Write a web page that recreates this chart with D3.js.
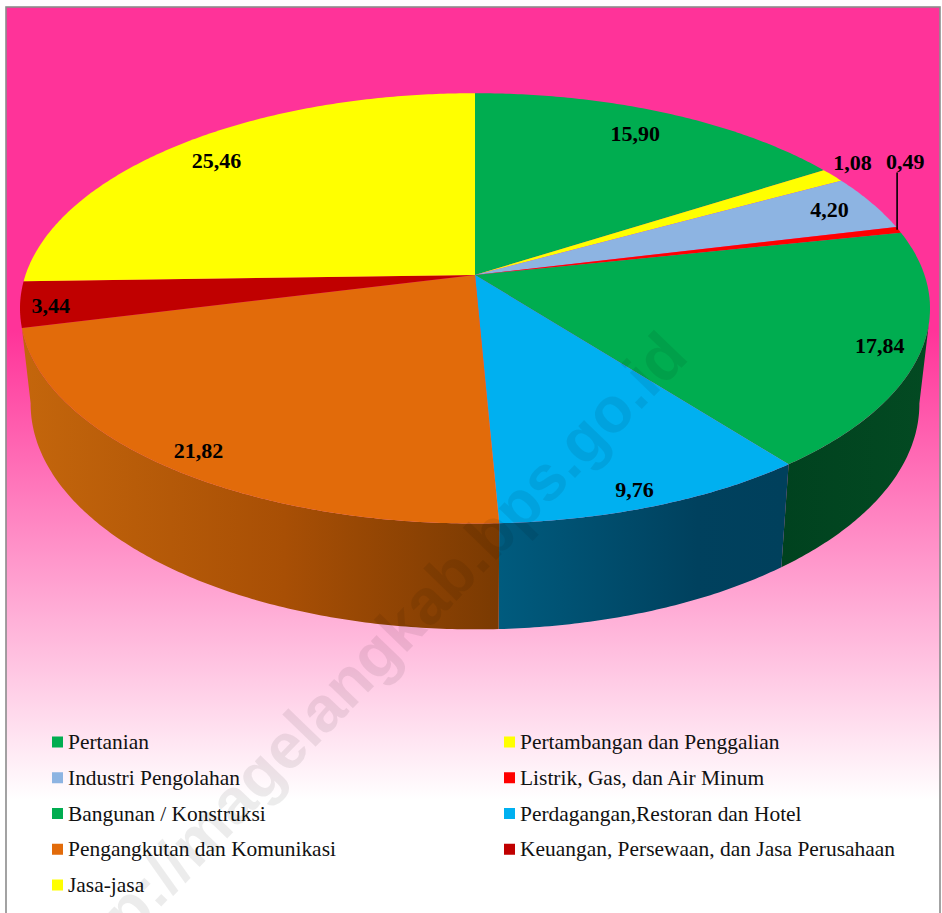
<!DOCTYPE html>
<html>
<head>
<meta charset="utf-8">
<style>
    html, body {margin:0; padding:0; background:#fff;}
    svg {display:block;}
    text {font-family:"Liberation Serif", "Times New Roman", serif;}
</style>
<script src="https://cdn.jsdelivr.net/npm/d3@7/dist/d3.min.js"></script>
</head>
<body>
<script>
//wrap everything in anon function
(function(){
    //chart data
    var categories = ["Pertanian", "Pertambangan dan Penggalian", "Industri Pengolahan", "Listrik, Gas, dan Air Minum", "Bangunan / Konstruksi", "Perdagangan,Restoran dan Hotel", "Pengangkutan dan Komunikasi", "Keuangan, Persewaan, dan Jasa Perusahaan", "Jasa-jasa"];
    var values = [15.90, 1.08, 4.20, 0.49, 17.84, 9.76, 21.82, 3.44, 25.46];
    var valueLabels = ["15,90", "1,08", "4,20", "0,49", "17,84", "9,76", "21,82", "3,44", "25,46"];
    var colors = ["#00ad50", "#ffff00", "#8db4e2", "#ff0000", "#00ad50", "#00b0f0", "#e26b0a", "#c00000", "#ffff00"];
    //label offset from the default slice position
    var labelNudge = [[5,-9], [87,-32], [34,-7], [89,-77], [52,10], [19,36], [-38,26], [-62,7], [-21,-7]];

    //frame dimensions
    var width = 942,
        height = 913;

    //perspective of the pie: top face and bottom rim
    var cx = 475,
        k = 0.155,
        top = {y0:275, a:449.5, b:210},
        bottom = {y0:369, a:439, b:220};

    //project an angle (clockwise from the back) and radius onto a face
    function project(face, theta, r){
        var x = Math.sin(theta), z = Math.cos(theta);
        var d = 1 + k * r * z;
        return [cx + r * face.a * x / d, face.y0 - r * face.b * z / d];
    }

    //sample an arc of a face
    function arcPoints(face, a0, a1){
        var n = Math.max(2, Math.ceil(Math.abs(a1 - a0) / 0.01));
        return d3.range(n + 1).map(function(i){
            return project(face, a0 + (a1 - a0) * i / n, 1);
        });
    }

    var line = d3.line();

    var svg = d3.select("body")
        .append("svg")
        .attr("width", width)
        .attr("height", height);

    var defs = svg.append("defs");

    //page background gradient
    var bg = defs.append("linearGradient")
        .attr("id", "bg")
        .attr("gradientUnits", "userSpaceOnUse")
        .attr("x1", 0).attr("x2", 0)
        .attr("y1", 330).attr("y2", 800);
    bg.append("stop").attr("offset", 0).attr("stop-color", "#ff3399");
    bg.append("stop").attr("offset", 1).attr("stop-color", "#ffffff");

    //horizontal shading of the walls
    function wallGradient(id, x1, x2, stops){
        var g = defs.append("linearGradient")
            .attr("id", id)
            .attr("gradientUnits", "userSpaceOnUse")
            .attr("x1", x1).attr("x2", x2)
            .attr("y1", 0).attr("y2", 0);
        stops.forEach(function(s){
            g.append("stop").attr("offset", s[0]).attr("stop-color", s[1]);
        });
    }

    svg.append("rect")
        .attr("x", 6).attr("y", 7)
        .attr("width", 934).attr("height", height)
        .attr("fill", "url(#bg)")
        .attr("stroke", "#8c8c8c")
        .attr("stroke-width", 1.6);

    //slice angles
    var slices = d3.pie().sort(null).value(function(d){ return d; })(values);

    //walls: only the front slices show one
    var leftEnd = slices[6].endAngle;
    var walls = [
        {i:4, id:"wallGreen", top0:1.77, top1:slices[4].endAngle, bot0:1.725, bot1:slices[4].endAngle},
        {i:5, id:"wallBlue", top0:slices[5].startAngle, top1:slices[5].endAngle, bot0:slices[5].startAngle, bot1:slices[5].endAngle},
        {i:6, id:"wallOrange", top0:slices[6].startAngle, top1:leftEnd, bot0:slices[6].startAngle, bot1:4.56}
    ];
    wallGradient("wallGreen", 782, 930, [[0,"#00421f"], [1,"#034a22"]]);
    wallGradient("wallBlue", 499, 782, [[0,"#005b7e"], [0.7,"#00415e"], [1,"#00405c"]]);
    wallGradient("wallOrange", 22, 499, [[0,"#c4660c"], [0.55,"#a84f05"], [1,"#7a3a02"]]);

    svg.selectAll(".wall")
        .data(walls)
        .enter()
        .append("path")
        .attr("class", "wall")
        .attr("fill", function(d){ return "url(#" + d.id + ")"; })
        .attr("d", function(d){
            var pts = arcPoints(top, d.top0, d.top1)
                .concat(arcPoints(bottom, d.bot1, d.bot0));
            return line(pts) + "Z";
        });

    //top face
    svg.selectAll(".slice")
        .data(slices)
        .enter()
        .append("path")
        .attr("class", "slice")
        .attr("fill", function(d){ return colors[d.index]; })
        .attr("d", function(d){
            var pts = [project(top, 0, 0)].concat(arcPoints(top, d.startAngle, d.endAngle));
            return line(pts) + "Z";
        });

    //leader line of the thin slice
    var thin = slices[3];
    var rim = project(top, (thin.startAngle + thin.endAngle) / 2, 1);
    var thinLabel = labelPos(thin);
    svg.append("line")
        .attr("x1", rim[0] - 1.5).attr("x2", rim[0] - 1.5)
        .attr("y1", rim[1]).attr("y2", thinLabel[1] + 11)
        .attr("stroke", "#000")
        .attr("stroke-width", 1.6);

    function labelPos(d){
        var p = project(top, (d.startAngle + d.endAngle) / 2, 0.8);
        return [p[0] + labelNudge[d.index][0], p[1] + labelNudge[d.index][1]];
    }

    //value labels
    svg.selectAll(".value")
        .data(slices)
        .enter()
        .append("text")
        .attr("class", "value")
        .attr("text-anchor", "middle")
        .attr("dominant-baseline", "central")
        .attr("font-size", 22)
        .attr("font-weight", "bold")
        .attr("x", function(d){ return labelPos(d)[0]; })
        .attr("y", function(d){ return labelPos(d)[1]; })
        .text(function(d){ return valueLabels[d.index]; });

    //legend, two columns
    var legendX = d3.scaleOrdinal().domain([0, 1]).range([52, 504]);
    var legendY = d3.scalePoint().domain(d3.range(5)).range([742, 885]);

    var legend = svg.selectAll(".legend")
        .data(categories)
        .enter()
        .append("g")
        .attr("class", "legend")
        .attr("transform", function(d, i){
            return "translate(" + legendX(i % 2) + "," + legendY(Math.floor(i / 2)) + ")";
        });
    legend.append("rect")
        .attr("x", 0).attr("y", -5.5)
        .attr("width", 11).attr("height", 11)
        .attr("fill", function(d, i){ return colors[i]; });
    legend.append("text")
        .attr("x", 16)
        .attr("y", 0)
        .attr("dominant-baseline", "central")
        .attr("font-size", 21.45)
        .attr("fill", "#111")
        .text(function(d){ return d; });

    //site watermark over everything
    svg.append("text")
        .attr("transform", "translate(73,998) rotate(-46)")
        .attr("font-size", 64)
        .attr("font-weight", "bold")
        .style("font-family", "'Liberation Sans', Arial, sans-serif")
        .attr("fill", "#000")
        .attr("fill-opacity", 0.075)
        .text("http://magelangkab.bps.go.id");
})();
</script>
</body>
</html>
